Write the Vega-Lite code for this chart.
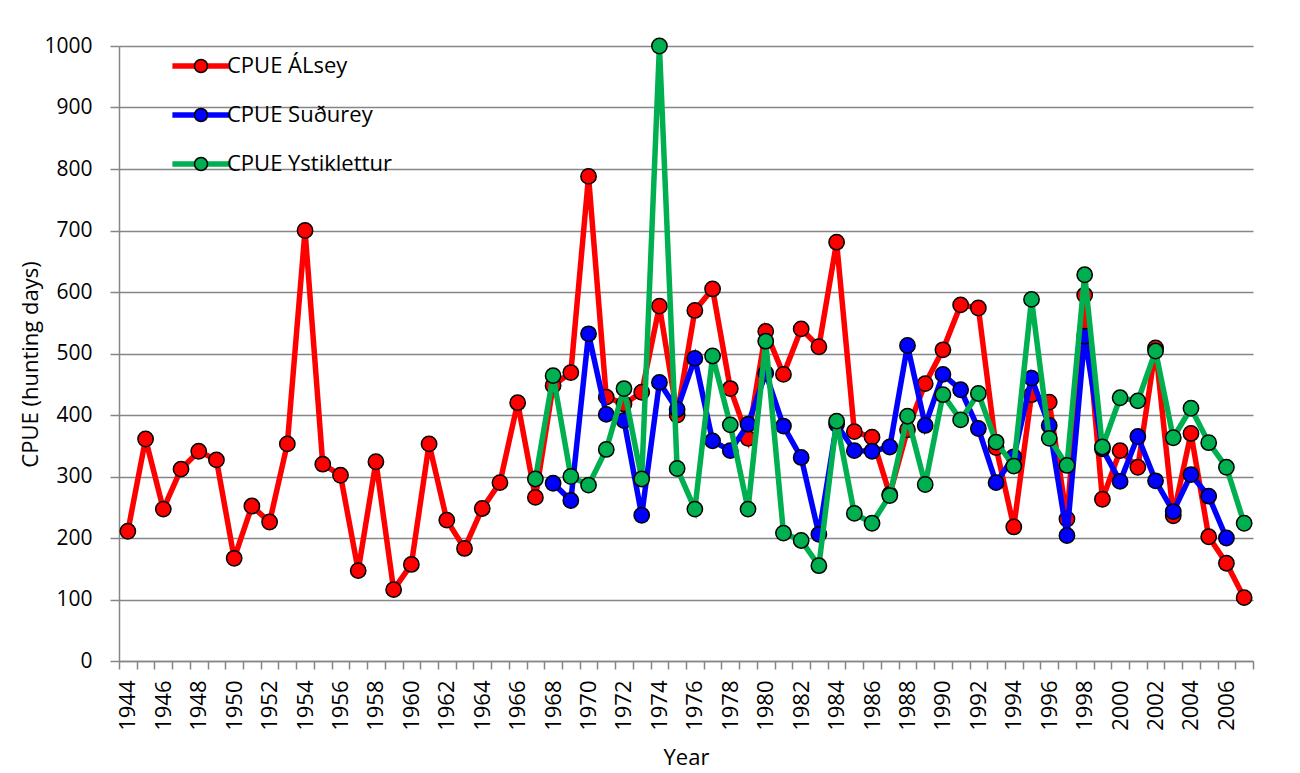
{
  "$schema": "https://vega.github.io/schema/vega-lite/v6.json",
  "width": 1134,
  "height": 615,
  "autosize": {"type": "none"},
  "padding": {"left": 119, "top": 46, "right": 47, "bottom": 112},
  "background": "white",
  "config": {
    "view": {"stroke": null},
    "font": "Open Sans",
    "legend": {"labelFont": "Open Sans", "labelColor": "#000000", "labelLimit": 0}
  },
  "data": {
    "values": [
      {"Year": 1944, "Series": "CPUE ÁLsey", "CPUE": 211},
      {"Year": 1945, "Series": "CPUE ÁLsey", "CPUE": 361},
      {"Year": 1946, "Series": "CPUE ÁLsey", "CPUE": 247},
      {"Year": 1947, "Series": "CPUE ÁLsey", "CPUE": 312},
      {"Year": 1948, "Series": "CPUE ÁLsey", "CPUE": 341},
      {"Year": 1949, "Series": "CPUE ÁLsey", "CPUE": 327},
      {"Year": 1950, "Series": "CPUE ÁLsey", "CPUE": 167},
      {"Year": 1951, "Series": "CPUE ÁLsey", "CPUE": 252},
      {"Year": 1952, "Series": "CPUE ÁLsey", "CPUE": 226},
      {"Year": 1953, "Series": "CPUE ÁLsey", "CPUE": 353},
      {"Year": 1954, "Series": "CPUE ÁLsey", "CPUE": 700},
      {"Year": 1955, "Series": "CPUE ÁLsey", "CPUE": 320},
      {"Year": 1956, "Series": "CPUE ÁLsey", "CPUE": 302},
      {"Year": 1957, "Series": "CPUE ÁLsey", "CPUE": 147},
      {"Year": 1958, "Series": "CPUE ÁLsey", "CPUE": 324},
      {"Year": 1959, "Series": "CPUE ÁLsey", "CPUE": 116},
      {"Year": 1960, "Series": "CPUE ÁLsey", "CPUE": 157},
      {"Year": 1961, "Series": "CPUE ÁLsey", "CPUE": 353},
      {"Year": 1962, "Series": "CPUE ÁLsey", "CPUE": 229},
      {"Year": 1963, "Series": "CPUE ÁLsey", "CPUE": 183},
      {"Year": 1964, "Series": "CPUE ÁLsey", "CPUE": 248},
      {"Year": 1965, "Series": "CPUE ÁLsey", "CPUE": 290},
      {"Year": 1966, "Series": "CPUE ÁLsey", "CPUE": 420},
      {"Year": 1967, "Series": "CPUE ÁLsey", "CPUE": 266},
      {"Year": 1968, "Series": "CPUE ÁLsey", "CPUE": 448},
      {"Year": 1969, "Series": "CPUE ÁLsey", "CPUE": 469},
      {"Year": 1970, "Series": "CPUE ÁLsey", "CPUE": 788},
      {"Year": 1971, "Series": "CPUE ÁLsey", "CPUE": 429},
      {"Year": 1972, "Series": "CPUE ÁLsey", "CPUE": 418},
      {"Year": 1973, "Series": "CPUE ÁLsey", "CPUE": 437},
      {"Year": 1974, "Series": "CPUE ÁLsey", "CPUE": 577},
      {"Year": 1975, "Series": "CPUE ÁLsey", "CPUE": 400},
      {"Year": 1976, "Series": "CPUE ÁLsey", "CPUE": 570},
      {"Year": 1977, "Series": "CPUE ÁLsey", "CPUE": 605},
      {"Year": 1978, "Series": "CPUE ÁLsey", "CPUE": 443},
      {"Year": 1979, "Series": "CPUE ÁLsey", "CPUE": 362},
      {"Year": 1980, "Series": "CPUE ÁLsey", "CPUE": 536},
      {"Year": 1981, "Series": "CPUE ÁLsey", "CPUE": 466},
      {"Year": 1982, "Series": "CPUE ÁLsey", "CPUE": 540},
      {"Year": 1983, "Series": "CPUE ÁLsey", "CPUE": 511},
      {"Year": 1984, "Series": "CPUE ÁLsey", "CPUE": 681},
      {"Year": 1985, "Series": "CPUE ÁLsey", "CPUE": 373},
      {"Year": 1986, "Series": "CPUE ÁLsey", "CPUE": 364},
      {"Year": 1987, "Series": "CPUE ÁLsey", "CPUE": 271},
      {"Year": 1988, "Series": "CPUE ÁLsey", "CPUE": 376},
      {"Year": 1989, "Series": "CPUE ÁLsey", "CPUE": 451},
      {"Year": 1990, "Series": "CPUE ÁLsey", "CPUE": 506},
      {"Year": 1991, "Series": "CPUE ÁLsey", "CPUE": 579},
      {"Year": 1992, "Series": "CPUE ÁLsey", "CPUE": 574},
      {"Year": 1993, "Series": "CPUE ÁLsey", "CPUE": 347},
      {"Year": 1994, "Series": "CPUE ÁLsey", "CPUE": 218},
      {"Year": 1995, "Series": "CPUE ÁLsey", "CPUE": 433},
      {"Year": 1996, "Series": "CPUE ÁLsey", "CPUE": 421},
      {"Year": 1997, "Series": "CPUE ÁLsey", "CPUE": 231},
      {"Year": 1998, "Series": "CPUE ÁLsey", "CPUE": 595},
      {"Year": 1999, "Series": "CPUE ÁLsey", "CPUE": 263},
      {"Year": 2000, "Series": "CPUE ÁLsey", "CPUE": 342},
      {"Year": 2001, "Series": "CPUE ÁLsey", "CPUE": 315},
      {"Year": 2002, "Series": "CPUE ÁLsey", "CPUE": 509},
      {"Year": 2003, "Series": "CPUE ÁLsey", "CPUE": 236},
      {"Year": 2004, "Series": "CPUE ÁLsey", "CPUE": 370},
      {"Year": 2005, "Series": "CPUE ÁLsey", "CPUE": 202},
      {"Year": 2006, "Series": "CPUE ÁLsey", "CPUE": 159},
      {"Year": 2007, "Series": "CPUE ÁLsey", "CPUE": 103},

      {"Year": 1968, "Series": "CPUE Suðurey", "CPUE": 289},
      {"Year": 1969, "Series": "CPUE Suðurey", "CPUE": 261},
      {"Year": 1970, "Series": "CPUE Suðurey", "CPUE": 532},
      {"Year": 1971, "Series": "CPUE Suðurey", "CPUE": 401},
      {"Year": 1972, "Series": "CPUE Suðurey", "CPUE": 391},
      {"Year": 1973, "Series": "CPUE Suðurey", "CPUE": 237},
      {"Year": 1974, "Series": "CPUE Suðurey", "CPUE": 453},
      {"Year": 1975, "Series": "CPUE Suðurey", "CPUE": 409},
      {"Year": 1976, "Series": "CPUE Suðurey", "CPUE": 492},
      {"Year": 1977, "Series": "CPUE Suðurey", "CPUE": 358},
      {"Year": 1978, "Series": "CPUE Suðurey", "CPUE": 342},
      {"Year": 1979, "Series": "CPUE Suðurey", "CPUE": 385},
      {"Year": 1980, "Series": "CPUE Suðurey", "CPUE": 468},
      {"Year": 1981, "Series": "CPUE Suðurey", "CPUE": 382},
      {"Year": 1982, "Series": "CPUE Suðurey", "CPUE": 331},
      {"Year": 1983, "Series": "CPUE Suðurey", "CPUE": 206},
      {"Year": 1984, "Series": "CPUE Suðurey", "CPUE": 385},
      {"Year": 1985, "Series": "CPUE Suðurey", "CPUE": 342},
      {"Year": 1986, "Series": "CPUE Suðurey", "CPUE": 341},
      {"Year": 1987, "Series": "CPUE Suðurey", "CPUE": 348},
      {"Year": 1988, "Series": "CPUE Suðurey", "CPUE": 513},
      {"Year": 1989, "Series": "CPUE Suðurey", "CPUE": 383},
      {"Year": 1990, "Series": "CPUE Suðurey", "CPUE": 466},
      {"Year": 1991, "Series": "CPUE Suðurey", "CPUE": 441},
      {"Year": 1992, "Series": "CPUE Suðurey", "CPUE": 378},
      {"Year": 1993, "Series": "CPUE Suðurey", "CPUE": 290},
      {"Year": 1994, "Series": "CPUE Suðurey", "CPUE": 332},
      {"Year": 1995, "Series": "CPUE Suðurey", "CPUE": 460},
      {"Year": 1996, "Series": "CPUE Suðurey", "CPUE": 383},
      {"Year": 1997, "Series": "CPUE Suðurey", "CPUE": 204},
      {"Year": 1998, "Series": "CPUE Suðurey", "CPUE": 528},
      {"Year": 1999, "Series": "CPUE Suðurey", "CPUE": 345},
      {"Year": 2000, "Series": "CPUE Suðurey", "CPUE": 292},
      {"Year": 2001, "Series": "CPUE Suðurey", "CPUE": 365},
      {"Year": 2002, "Series": "CPUE Suðurey", "CPUE": 293},
      {"Year": 2003, "Series": "CPUE Suðurey", "CPUE": 243},
      {"Year": 2004, "Series": "CPUE Suðurey", "CPUE": 303},
      {"Year": 2005, "Series": "CPUE Suðurey", "CPUE": 268},
      {"Year": 2006, "Series": "CPUE Suðurey", "CPUE": 200},

      {"Year": 1967, "Series": "CPUE Ystiklettur", "CPUE": 296},
      {"Year": 1968, "Series": "CPUE Ystiklettur", "CPUE": 464},
      {"Year": 1969, "Series": "CPUE Ystiklettur", "CPUE": 300},
      {"Year": 1970, "Series": "CPUE Ystiklettur", "CPUE": 286},
      {"Year": 1971, "Series": "CPUE Ystiklettur", "CPUE": 344},
      {"Year": 1972, "Series": "CPUE Ystiklettur", "CPUE": 443},
      {"Year": 1973, "Series": "CPUE Ystiklettur", "CPUE": 296},
      {"Year": 1974, "Series": "CPUE Ystiklettur", "CPUE": 1000},
      {"Year": 1975, "Series": "CPUE Ystiklettur", "CPUE": 313},
      {"Year": 1976, "Series": "CPUE Ystiklettur", "CPUE": 247},
      {"Year": 1977, "Series": "CPUE Ystiklettur", "CPUE": 496},
      {"Year": 1978, "Series": "CPUE Ystiklettur", "CPUE": 384},
      {"Year": 1979, "Series": "CPUE Ystiklettur", "CPUE": 247},
      {"Year": 1980, "Series": "CPUE Ystiklettur", "CPUE": 520},
      {"Year": 1981, "Series": "CPUE Ystiklettur", "CPUE": 208},
      {"Year": 1982, "Series": "CPUE Ystiklettur", "CPUE": 196},
      {"Year": 1983, "Series": "CPUE Ystiklettur", "CPUE": 155},
      {"Year": 1984, "Series": "CPUE Ystiklettur", "CPUE": 390},
      {"Year": 1985, "Series": "CPUE Ystiklettur", "CPUE": 240},
      {"Year": 1986, "Series": "CPUE Ystiklettur", "CPUE": 224},
      {"Year": 1987, "Series": "CPUE Ystiklettur", "CPUE": 269},
      {"Year": 1988, "Series": "CPUE Ystiklettur", "CPUE": 398},
      {"Year": 1989, "Series": "CPUE Ystiklettur", "CPUE": 287},
      {"Year": 1990, "Series": "CPUE Ystiklettur", "CPUE": 433},
      {"Year": 1991, "Series": "CPUE Ystiklettur", "CPUE": 392},
      {"Year": 1992, "Series": "CPUE Ystiklettur", "CPUE": 435},
      {"Year": 1993, "Series": "CPUE Ystiklettur", "CPUE": 356},
      {"Year": 1994, "Series": "CPUE Ystiklettur", "CPUE": 317},
      {"Year": 1995, "Series": "CPUE Ystiklettur", "CPUE": 588},
      {"Year": 1996, "Series": "CPUE Ystiklettur", "CPUE": 362},
      {"Year": 1997, "Series": "CPUE Ystiklettur", "CPUE": 318},
      {"Year": 1998, "Series": "CPUE Ystiklettur", "CPUE": 628},
      {"Year": 1999, "Series": "CPUE Ystiklettur", "CPUE": 348},
      {"Year": 2000, "Series": "CPUE Ystiklettur", "CPUE": 428},
      {"Year": 2001, "Series": "CPUE Ystiklettur", "CPUE": 423},
      {"Year": 2002, "Series": "CPUE Ystiklettur", "CPUE": 504},
      {"Year": 2003, "Series": "CPUE Ystiklettur", "CPUE": 363},
      {"Year": 2004, "Series": "CPUE Ystiklettur", "CPUE": 411},
      {"Year": 2005, "Series": "CPUE Ystiklettur", "CPUE": 355},
      {"Year": 2006, "Series": "CPUE Ystiklettur", "CPUE": 315},
      {"Year": 2007, "Series": "CPUE Ystiklettur", "CPUE": 224}
    ]
  },
  "encoding": {
    "x": {
      "field": "Year",
      "type": "ordinal",
      "bandPosition": 0.5,
      "scale": {"type": "band", "paddingInner": 0, "paddingOuter": 0},
      "axis": {
        "title": "Year",
        "labelAngle": -90,
        "labelAlign": "right",
        "labelBaseline": "middle",
        "labelExpr": "datum.value % 2 === 0 ? datum.label : ''",
        "labelOverlap": false,
        "labelFontSize": 22,
        "labelColor": "#000000",
        "labelPadding": 11,
        "tickBand": "extent",
        "tickSize": 8,
        "tickColor": "#868686",
        "tickWidth": 1.5,
        "domainColor": "#868686",
        "domainWidth": 1.5,
        "grid": false,
        "titleFontSize": 22,
        "titleFontWeight": "normal",
        "titleColor": "#000000",
        "titleX": 567,
        "titleY": 96,
        "titleBaseline": "middle"
      }
    },
    "y": {
      "field": "CPUE",
      "type": "quantitative",
      "scale": {"domain": [0, 1000], "nice": false},
      "axis": {
        "title": "CPUE (hunting days)",
        "values": [0, 100, 200, 300, 400, 500, 600, 700, 800, 900, 1000],
        "format": "d",
        "labelFontSize": 21,
        "labelColor": "#000000",
        "labelPadding": 18,
        "tickSize": 9,
        "tickColor": "#868686",
        "tickWidth": 1.5,
        "domainColor": "#868686",
        "domainWidth": 1.5,
        "grid": true,
        "gridColor": "#868686",
        "gridWidth": 1.5,
        "titleFontSize": 22,
        "titleFontWeight": "normal",
        "titleColor": "#000000",
        "titleAngle": -90,
        "titleX": -89,
        "titleY": 318,
        "titleAlign": "center",
        "titleBaseline": "middle"
      }
    }
  },
  "layer": [
    {
      "transform": [{"filter": "datum.Series === 'CPUE ÁLsey'"}],
      "mark": {"type": "line", "strokeWidth": 5.5},
      "encoding": {
        "stroke": {
          "field": "Series", "type": "nominal",
          "scale": {"domain": ["CPUE Ystiklettur", "CPUE Suðurey", "CPUE ÁLsey"], "range": ["#00b050", "#0000ff", "#ff0000"]},
          "legend": {"title": null, "orient": "none", "legendX": 71, "legendY": 9, "padding": 0, "values": ["CPUE ÁLsey", "CPUE Suðurey", "CPUE Ystiklettur"], "symbolType": "M-4.4,0L4.4,0", "symbolSize": 169, "symbolStrokeWidth": 5.5, "labelFontSize": 22, "labelOpacity": 0, "labelOffset": 15, "rowPadding": 27, "zindex": 1}
        }
      }
    },
    {
      "transform": [{"filter": "datum.Series === 'CPUE ÁLsey'"}],
      "mark": {"type": "point", "shape": "circle", "filled": true, "opacity": 1, "stroke": "#000000", "strokeWidth": 1.5, "size": 235},
      "encoding": {
        "fill": {
          "field": "Series", "type": "nominal",
          "scale": {"domain": ["CPUE ÁLsey", "CPUE Suðurey", "CPUE Ystiklettur"], "range": ["#ff0000", "#0000ff", "#00b050"]},
          "legend": {"title": null, "orient": "none", "legendX": 71, "legendY": 9, "padding": 0, "symbolType": "circle", "symbolSize": 169, "symbolStrokeColor": "#000000", "symbolStrokeWidth": 1.5, "symbolOpacity": 1, "labelFontSize": 22, "labelOffset": 15, "rowPadding": 27, "zindex": 2}
        }
      }
    },
    {
      "transform": [{"filter": "datum.Series === 'CPUE Suðurey'"}],
      "mark": {"type": "line", "strokeWidth": 5.5},
      "encoding": {
        "stroke": {
          "field": "Series", "type": "nominal",
          "scale": {"domain": ["CPUE Ystiklettur", "CPUE Suðurey", "CPUE ÁLsey"], "range": ["#00b050", "#0000ff", "#ff0000"]},
          "legend": {"title": null, "orient": "none", "legendX": 71, "legendY": 9, "padding": 0, "values": ["CPUE ÁLsey", "CPUE Suðurey", "CPUE Ystiklettur"], "symbolType": "M-4.4,0L4.4,0", "symbolSize": 169, "symbolStrokeWidth": 5.5, "labelFontSize": 22, "labelOpacity": 0, "labelOffset": 15, "rowPadding": 27, "zindex": 1}
        }
      }
    },
    {
      "transform": [{"filter": "datum.Series === 'CPUE Suðurey'"}],
      "mark": {"type": "point", "shape": "circle", "filled": true, "opacity": 1, "stroke": "#000000", "strokeWidth": 1.5, "size": 235},
      "encoding": {
        "fill": {
          "field": "Series", "type": "nominal",
          "scale": {"domain": ["CPUE ÁLsey", "CPUE Suðurey", "CPUE Ystiklettur"], "range": ["#ff0000", "#0000ff", "#00b050"]},
          "legend": {"title": null, "orient": "none", "legendX": 71, "legendY": 9, "padding": 0, "symbolType": "circle", "symbolSize": 169, "symbolStrokeColor": "#000000", "symbolStrokeWidth": 1.5, "symbolOpacity": 1, "labelFontSize": 22, "labelOffset": 15, "rowPadding": 27, "zindex": 2}
        }
      }
    },
    {
      "transform": [{"filter": "datum.Series === 'CPUE Ystiklettur'"}],
      "mark": {"type": "line", "strokeWidth": 5.5},
      "encoding": {
        "stroke": {
          "field": "Series", "type": "nominal",
          "scale": {"domain": ["CPUE Ystiklettur", "CPUE Suðurey", "CPUE ÁLsey"], "range": ["#00b050", "#0000ff", "#ff0000"]},
          "legend": {"title": null, "orient": "none", "legendX": 71, "legendY": 9, "padding": 0, "values": ["CPUE ÁLsey", "CPUE Suðurey", "CPUE Ystiklettur"], "symbolType": "M-4.4,0L4.4,0", "symbolSize": 169, "symbolStrokeWidth": 5.5, "labelFontSize": 22, "labelOpacity": 0, "labelOffset": 15, "rowPadding": 27, "zindex": 1}
        }
      }
    },
    {
      "transform": [{"filter": "datum.Series === 'CPUE Ystiklettur'"}],
      "mark": {"type": "point", "shape": "circle", "filled": true, "opacity": 1, "stroke": "#000000", "strokeWidth": 1.5, "size": 235},
      "encoding": {
        "fill": {
          "field": "Series", "type": "nominal",
          "scale": {"domain": ["CPUE ÁLsey", "CPUE Suðurey", "CPUE Ystiklettur"], "range": ["#ff0000", "#0000ff", "#00b050"]},
          "legend": {"title": null, "orient": "none", "legendX": 71, "legendY": 9, "padding": 0, "symbolType": "circle", "symbolSize": 169, "symbolStrokeColor": "#000000", "symbolStrokeWidth": 1.5, "symbolOpacity": 1, "labelFontSize": 22, "labelOffset": 15, "rowPadding": 27, "zindex": 2}
        }
      }
    }
  ]
}
